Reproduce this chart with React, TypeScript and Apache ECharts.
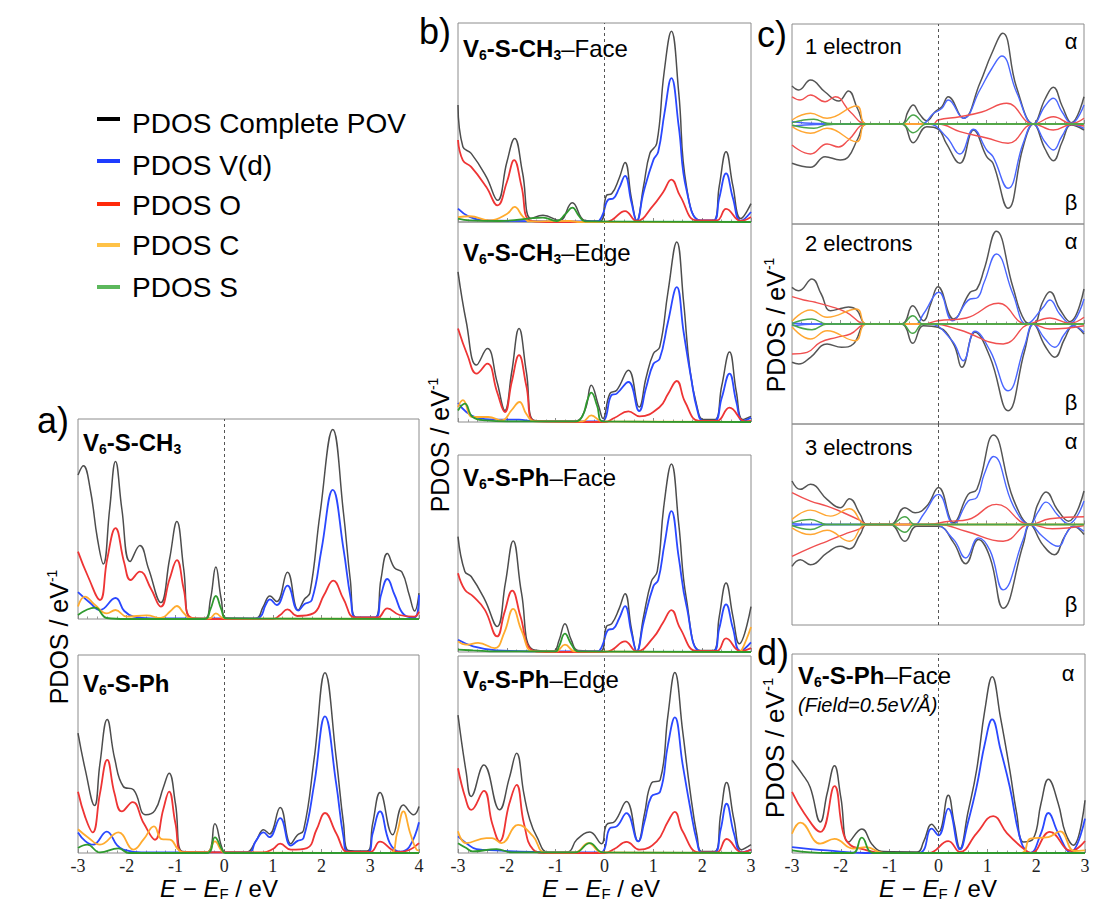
import React, { useEffect, useRef } from "react";
import * as echarts from "echarts";

type Pt = [number, number];

// ---------- Panel a) V6-S-CH3 (values in % of frame height) ----------
const aCH3Total: Pt[] = [[-3,72],[-2.89,76.6],[-2.75,65],[-2.6,40],[-2.48,27.5],[-2.35,55],[-2.23,78.8],[-2.1,55],[-1.93,28.7],[-1.73,36.7],[-1.55,25],[-1.3,8.2],[-1.12,30],[-0.97,48.7],[-0.83,25],[-0.69,0.5],[-0.4,0.3],[-0.28,10],[-0.17,26],[-0.06,10],[0.05,0.5],[0.65,0.3],[0.8,6],[0.94,11.5],[1.08,8.7],[1.3,23.4],[1.52,4.5],[1.65,10],[1.76,13],[1.97,53],[2.23,94.7],[2.45,53],[2.59,19.5],[2.71,0.8],[3.1,0.8],[3.22,20],[3.35,32.7],[3.5,25.5],[3.65,23.4],[3.8,12],[3.91,4],[4,12.9]];
const aCH3Vd: Pt[] = [[-3,13.4],[-2.75,8],[-2.55,4.5],[-2.23,10.5],[-2.05,4],[-1.86,1.2],[-1.5,0.3],[0.6,0.3],[0.74,1],[0.85,7],[0.94,9.8],[1.08,7],[1.3,16.7],[1.52,4.2],[1.65,7.5],[1.8,9.5],[2.0,35],[2.23,64.6],[2.45,35],[2.6,10],[2.71,0.8],[3.1,0.8],[3.22,12],[3.35,20],[3.5,12],[3.7,2],[3.91,0.8],[4,12]];
const aCH3O: Pt[] = [[-3,33.7],[-2.79,21],[-2.55,9.5],[-2.4,30],[-2.23,45.4],[-2.05,28],[-1.92,19.5],[-1.73,23.7],[-1.5,15],[-1.3,6.2],[-1.12,20],[-0.97,29.4],[-0.83,15],[-0.69,0.8],[-0.4,0],[1.0,0],[1.15,2],[1.3,4.8],[1.5,1.5],[1.83,2.8],[2.05,12],[2.24,19.2],[2.45,10],[2.69,0.8],[3.15,0.8],[3.35,5.3],[3.6,2],[3.9,1.2],[4,3.7]];
const aCH3C: Pt[] = [[-3,6.2],[-2.86,11.2],[-2.65,7],[-2.41,2.8],[-2.23,4.5],[-2.0,1.2],[-1.59,1.8],[-1.3,0.5],[-1.1,4],[-0.97,6.5],[-0.83,3],[-0.69,0.3],[-0.3,0.3],[-0.17,2.8],[0,0.3],[4,0]];
const aCH3S: Pt[] = [[-3,2],[-2.65,5.7],[-2.41,0.5],[-2,0],[-0.4,0],[-0.28,5],[-0.17,11.5],[-0.06,5],[0.05,0.3],[4,0]];

// ---------- Panel a) V6-S-Ph ----------
const aPhTotal: Pt[] = [[-3,60.5],[-2.85,42],[-2.66,24],[-2.55,45],[-2.4,67.4],[-2.25,48],[-2.07,33.6],[-1.86,31.9],[-1.61,19.3],[-1.42,21.5],[-1.25,33],[-1.13,40.3],[-1.0,25],[-0.85,0.7],[-0.35,0.5],[-0.19,14.8],[-0.05,3],[0.02,0.5],[0.46,0.5],[0.65,6],[0.81,11.8],[0.93,9.6],[1.15,23],[1.37,4.7],[1.5,9],[1.63,11.4],[1.85,48],[2.07,91],[2.3,48],[2.45,15],[2.55,1.3],[2.93,1],[3.05,15],[3.2,30.6],[3.46,9.2],[3.68,24.2],[3.89,19.3],[4,23.5]];
const aPhVd: Pt[] = [[-3,10.4],[-2.85,6],[-2.69,4.2],[-2.41,10.8],[-2.2,4],[-2.07,1.7],[-1.7,0.3],[0.5,0.3],[0.65,6],[0.81,10.4],[0.93,8],[1.15,17.6],[1.37,3.7],[1.5,6],[1.63,7.6],[1.85,35],[2.07,69],[2.3,35],[2.45,8],[2.55,0.5],[2.95,0.5],[3.05,10],[3.2,21],[3.4,5],[3.61,0.7],[3.8,3],[4,15.5]];
const aPhO: Pt[] = [[-3,30.9],[-2.85,18],[-2.7,10.4],[-2.55,30],[-2.4,47],[-2.25,30],[-2.1,21],[-1.88,25.7],[-1.65,15],[-1.42,6.7],[-1.25,22],[-1.13,31],[-1.0,15],[-0.85,0.5],[0.8,0.3],[1.0,2],[1.15,4.7],[1.37,1.7],[1.7,2.5],[1.9,12],[2.07,20.2],[2.3,10],[2.55,0.5],[3.0,0.5],[3.2,5.7],[3.45,1.5],[3.6,0.5],[3.8,1.5],[4,5]];
const aPhC: Pt[] = [[-3,12],[-2.8,8],[-2.55,4.2],[-2.17,10.4],[-1.86,1.7],[-1.65,7],[-1.44,13.4],[-1.28,7],[-1.11,6.7],[-0.95,2],[-0.85,0.3],[-0.35,0.3],[-0.19,5.9],[-0.05,1],[0.02,0.2],[3.4,0],[3.55,10],[3.68,21],[3.82,10],[3.95,1.7],[4,1.3]];
const aPhS: Pt[] = [[-3,2.5],[-2.81,4.2],[-2.55,0.3],[-2.17,2.3],[-1.95,0],[-0.35,0],[-0.19,7.9],[-0.05,2],[0.02,0],[4,0]];

// ---------- Panel b) V6-S-CH3 Face ----------
const bCH3FaceTotal: Pt[] = [[-3,58.8],[-2.9,37.8],[-2.73,34.5],[-2.42,22.7],[-2.19,10.9],[-2.0,30],[-1.84,42],[-1.68,25],[-1.5,1.7],[-1.26,3.4],[-0.92,0.8],[-0.66,9.7],[-0.4,0.8],[-0.09,0.5],[0.04,13.4],[0.15,14.3],[0.3,22],[0.42,29.9],[0.55,12],[0.66,0.8],[0.8,18],[0.93,34.5],[1.07,39.5],[1.22,75],[1.37,95.8],[1.52,65],[1.68,17.6],[1.96,0.8],[2.23,0.8],[2.35,18],[2.49,35.3],[2.63,18],[2.79,1.7],[3,9.2]];
const bCH3FaceVd: Pt[] = [[-3,6.7],[-2.76,2.5],[-2.42,0.8],[-1,0.3],[-0.15,0.3],[-0.05,3],[0.08,11.3],[0.18,11.8],[0.3,17],[0.42,23.2],[0.55,10],[0.66,0.5],[0.8,15],[1.0,31.1],[1.1,35.3],[1.23,55],[1.37,72.3],[1.52,48],[1.68,16],[1.96,0.8],[2.23,0.8],[2.35,12],[2.49,24.4],[2.63,12],[2.79,0.5],[3,5]];
const bCH3FaceO: Pt[] = [[-3,41.2],[-2.9,31],[-2.73,27.7],[-2.42,17.6],[-2.19,8.4],[-2.0,20],[-1.85,31.1],[-1.7,18],[-1.53,0.8],[-1.2,0],[0,0],[0.15,1],[0.42,5.5],[0.66,0.5],[1.0,8.4],[1.2,15],[1.37,21.3],[1.55,13],[1.89,0.8],[2.3,0.8],[2.49,6.6],[2.79,0.5],[3,2.5]];
const bCH3FaceC: Pt[] = [[-3,2.5],[-2.76,2.9],[-2.35,0.8],[-2.0,4],[-1.84,7.6],[-1.68,3],[-1.53,0.3],[-0.7,0.5],[-0.5,0],[3,0]];
const bCH3FaceS: Pt[] = [[-3,1.7],[-2.76,0.8],[-2.15,0.5],[-1.26,2.2],[-0.98,0.5],[-0.8,4],[-0.66,7.2],[-0.52,3],[-0.4,0.3],[3,0]];

// ---------- Panel b) V6-S-CH3 Edge ----------
const bCH3EdgeTotal: Pt[] = [[-3,75.1],[-2.83,50],[-2.62,28.5],[-2.4,36.7],[-2.2,20],[-2.04,5.8],[-1.9,25],[-1.75,46.7],[-1.6,25],[-1.43,0.8],[-0.6,0.5],[-0.4,6],[-0.27,18.4],[-0.12,8],[-0.03,1.7],[0.11,14.2],[0.25,15.9],[0.49,25.9],[0.71,7.5],[0.85,22],[1.0,34.1],[1.13,37.4],[1.3,65],[1.48,90],[1.62,60],[1.75,25.9],[1.9,7],[2.02,1.2],[2.25,1.2],[2.4,18],[2.56,35],[2.7,15],[2.83,1.2],[3,2.8]];
const bCH3EdgeVd: Pt[] = [[-3,9.5],[-2.83,5],[-2.62,2.2],[-2.25,1.2],[-1.75,1.2],[-1.47,0.5],[-0.1,0.3],[0.0,1],[0.14,13.4],[0.25,14.2],[0.49,20],[0.71,5.5],[0.85,17],[1.0,29],[1.13,31.6],[1.3,50],[1.48,67.4],[1.62,45],[1.77,22.5],[1.9,6],[2.02,0.5],[2.25,0.5],[2.4,12],[2.56,24.2],[2.7,10],[2.83,0.5],[3,2.2]];
const bCH3EdgeO: Pt[] = [[-3,46.7],[-2.8,33],[-2.62,24.2],[-2.4,29.2],[-2.2,15],[-2.04,5],[-1.9,20],[-1.75,33.4],[-1.6,18],[-1.43,0.5],[0,0],[0.2,2],[0.49,5.3],[0.72,2.8],[1.13,7.5],[1.3,14],[1.48,20.5],[1.65,10],[1.94,0.5],[2.3,0.5],[2.56,7.2],[2.88,0.3],[3,0.5]];
const bCH3EdgeC: Pt[] = [[-3,7.5],[-2.9,10.9],[-2.7,2.5],[-2.38,2.5],[-2.1,0.8],[-1.9,6],[-1.74,10],[-1.6,4],[-1.43,0.3],[-0.45,0.3],[-0.27,3.3],[-0.05,0.3],[3,0]];
const bCH3EdgeS: Pt[] = [[-3,5.8],[-2.86,9.2],[-2.7,2.5],[-2.42,0.8],[-2,0.3],[-0.6,0.3],[-0.45,3],[-0.35,11],[-0.27,14.7],[-0.15,8],[-0.03,0.3],[3,0]];

// ---------- Panel b) V6-S-Ph Face ----------
const bPhFaceTotal: Pt[] = [[-3,58.6],[-2.86,40.9],[-2.73,38.3],[-2.45,26.5],[-2.2,13],[-2.03,35],[-1.87,56.4],[-1.7,30],[-1.46,1.2],[-1.05,0.5],[-0.93,6],[-0.81,14.4],[-0.68,6],[-0.54,0.8],[-0.08,0.5],[0.04,13],[0.15,14.4],[0.3,22],[0.42,29.6],[0.55,12],[0.66,0.3],[0.8,18],[0.96,35.8],[1.08,40.9],[1.22,75],[1.37,95.4],[1.52,65],[1.68,26.5],[1.96,0.8],[2.23,0.8],[2.35,18],[2.49,35],[2.63,18],[2.76,4.2],[3,23]];
const bPhFaceVd: Pt[] = [[-3,6.2],[-2.69,2.9],[-2.21,0.8],[-1,0.3],[-0.15,0.3],[-0.05,3],[0.08,11.3],[0.18,11.8],[0.3,17],[0.42,23.3],[0.55,10],[0.66,0.3],[0.8,15],[1.0,33.3],[1.1,36.6],[1.23,55],[1.37,71.5],[1.52,48],[1.68,23.3],[1.96,0.5],[2.23,0.5],[2.35,12],[2.49,24.2],[2.63,12],[2.78,0.5],[3,4.9]];
const bPhFaceO: Pt[] = [[-3,40],[-2.86,31.6],[-2.69,28.2],[-2.45,21.4],[-2.2,7.9],[-2.05,20],[-1.89,31.2],[-1.72,18],[-1.5,1.2],[-1.2,0],[0,0],[0.15,1],[0.42,5.4],[0.66,0.3],[1.0,7.3],[1.2,15],[1.37,21.3],[1.55,12],[1.89,0.5],[2.3,0.5],[2.49,6.9],[2.78,0.5],[3,2]];
const bPhFaceC: Pt[] = [[-3,5.4],[-2.83,3.7],[-2.59,4.6],[-2.25,2],[-2.05,10],[-1.87,21.9],[-1.7,11],[-1.46,0.3],[-1.0,0.3],[-0.81,3.7],[-0.6,0.3],[2.75,0],[2.8,0.5],[3,12.7]];
const bPhFaceS: Pt[] = [[-3,1.2],[-2.69,0.8],[-2.2,0.3],[-1,0.3],[-0.93,3],[-0.81,9.3],[-0.68,4],[-0.54,0.3],[3,0]];

// ---------- Panel b) V6-S-Ph Edge ----------
const bPhEdgeTotal: Pt[] = [[-3,70],[-2.83,40.5],[-2.73,28.7],[-2.47,44.7],[-2.15,21.9],[-1.95,38],[-1.8,50.6],[-1.65,30],[-1.53,16.9],[-1.39,8.4],[-1.15,0.3],[-0.75,0.5],[-0.57,6.7],[-0.3,10.6],[-0.06,4.7],[0.04,14.3],[0.21,16],[0.45,26.1],[0.69,5.9],[0.82,20],[0.96,35.4],[1.14,37.1],[1.3,70],[1.44,91.6],[1.6,62],[1.75,32],[1.9,8],[1.99,0.8],[2.25,0.8],[2.38,20],[2.5,35.8],[2.65,17],[2.81,1.7],[3,4.2]];
const bPhEdgeVd: Pt[] = [[-3,8.4],[-2.83,5],[-2.62,2],[-2.21,1.3],[-1.5,0.5],[-0.08,0.3],[0.0,2],[0.11,12.6],[0.25,13.5],[0.45,20.2],[0.69,5.9],[0.82,16],[0.96,28.7],[1.14,31.2],[1.3,55],[1.44,68.8],[1.6,45],[1.75,23.6],[1.9,5],[1.99,0.3],[2.25,0.3],[2.38,12],[2.5,25],[2.65,10],[2.81,0.3],[3,1.7]];
const bPhEdgeO: Pt[] = [[-3,43],[-2.85,28],[-2.73,21.9],[-2.47,31.5],[-2.3,15],[-2.15,5.9],[-1.95,25],[-1.8,34.6],[-1.65,15],[-1.46,1.7],[-1.2,0],[0,0],[0.2,2],[0.45,5.6],[0.72,1.7],[1.07,5.9],[1.3,16],[1.44,20.9],[1.6,11],[1.94,0.3],[2.3,0.3],[2.5,7.1],[2.81,0.3],[3,1.7]];
const bPhEdgeC: Pt[] = [[-3,11],[-2.83,5],[-2.42,7.6],[-2.3,7.6],[-2.11,5],[-1.77,14.3],[-1.46,8.4],[-1.22,0.3],[-0.6,0.3],[-0.33,5],[-0.05,0.3],[3,0]];
const bPhEdgeS: Pt[] = [[-3,5],[-2.83,2.5],[-2.7,0.8],[-2.21,2],[-1.9,0.3],[-0.6,0.3],[-0.3,5],[-0.03,0.3],[3,0]];

// ---------- Panel c) 1 electron (alpha > 0, beta < 0; % of half height) ----------
const c1TotalA: Pt[] = [[-3,38],[-2.86,34],[-2.62,44],[-2.32,32],[-2.04,23],[-1.84,33],[-1.65,15],[-1.46,0],[-0.75,0],[-0.62,12],[-0.51,19],[-0.38,10],[-0.23,3.3],[-0.06,12.3],[0.08,17.3],[0.21,27.3],[0.52,5.7],[0.86,40.7],[1.1,70],[1.33,90.7],[1.61,37.3],[1.96,0],[2.2,25],[2.37,36.7],[2.55,18],[2.74,1.3],[3,27.3]];
const c1VdA: Pt[] = [[-3,2.3],[-2.5,0.5],[-1.46,0],[-0.35,0],[-0.09,10.7],[0.08,15.7],[0.21,24],[0.52,5.7],[0.86,34],[1.1,55],[1.31,68],[1.61,32.3],[1.96,0],[2.2,18],[2.37,25.7],[2.55,12],[2.74,0.7],[3,19]];
const c1OA: Pt[] = [[-3,27.3],[-2.83,24],[-2.62,29],[-2.32,22.3],[-2.11,27.3],[-1.8,12],[-1.46,0],[-0.1,0],[0,4],[0.45,7.3],[0.9,12],[1.41,20.7],[1.96,0],[2.37,7.3],[2.74,0.5],[3,5.7]];
const c1CA: Pt[] = [[-3,4],[-2.62,10.7],[-2.28,5.7],[-1.67,18],[-1.46,0],[3,0]];
const c1SA: Pt[] = [[-3,1.3],[-2.55,4.7],[-2.28,0.7],[-2,0],[-0.75,0],[-0.51,9],[-0.23,0],[3,0]];
const c1TotalB: Pt[] = [[-3,-39.3],[-2.62,-43.3],[-2.32,-32.7],[-2.01,-36],[-1.84,-32.7],[-1.65,-15],[-1.46,0],[-0.75,0],[-0.51,-18.7],[-0.23,-2.7],[0,-5],[0.17,-19.3],[0.45,-39.3],[0.73,-6],[1.0,-32.7],[1.13,-39.3],[1.44,-84.3],[1.75,-22.7],[1.96,0],[2.2,-25],[2.37,-36.7],[2.55,-18],[2.74,-1],[3,-6]];
const c1VdB: Pt[] = [[-3,-2],[-2.5,-0.5],[-1.46,0],[-0.2,0],[0.17,-12.7],[0.45,-30],[0.73,-5.3],[1.0,-26],[1.13,-32.7],[1.44,-64.3],[1.75,-19.3],[1.96,0],[2.2,-18],[2.37,-26],[2.55,-12],[2.74,-0.3],[3,-4.3]];
const c1OB: Pt[] = [[-3,-21],[-2.62,-30],[-2.28,-20],[-2.04,-23],[-1.84,-16],[-1.46,0],[0,0],[0.45,-7.7],[1.0,-14],[1.44,-19.3],[1.96,0],[2.37,-6],[2.74,-0.5],[3,-2]];
const c1CB: Pt[] = [[-3,-2.7],[-2.62,-9.3],[-2.28,-4.3],[-1.67,-17.7],[-1.46,0],[3,0]];
const c1SB: Pt[] = [[-3,-1],[-2.55,-4.3],[-2.28,-0.7],[-2,0],[-0.75,0],[-0.51,-8.7],[-0.23,0],[3,0]];

// ---------- Panel c) 2 electrons ----------
const c2TotalA: Pt[] = [[-3,36.7],[-2.86,33.3],[-2.59,45],[-2.4,30],[-2.21,13.3],[-1.95,16],[-1.84,17],[-1.67,14],[-1.46,0],[-0.75,0],[-0.52,18.3],[-0.3,3.3],[-0.15,20],[0,37.3],[0.32,5],[0.66,31.7],[0.8,35],[0.95,55],[1.2,92.7],[1.54,36.7],[1.78,3.3],[1.96,0],[2.15,22],[2.3,32.3],[2.5,15],[2.71,2.3],[3,35]];
const c2VdA: Pt[] = [[-3,0.7],[-2.5,0],[-0.47,0],[-0.3,10],[0.02,31.7],[0.3,3.3],[0.66,25],[0.8,26],[0.95,42],[1.2,70],[1.54,30],[1.82,0],[2.15,16],[2.3,24],[2.5,10],[2.71,0.7],[3,25]];
const c2OA: Pt[] = [[-3,27.3],[-2.76,24],[-2.52,21.7],[-2.15,16.7],[-1.88,11.7],[-1.46,0],[-0.3,0],[0,3.3],[0.58,6],[1.24,20.7],[1.82,0],[2.3,6],[2.71,0.7],[3,6.7]];
const c2CA: Pt[] = [[-3,2.7],[-2.62,14],[-2.28,6.7],[-1.67,15],[-1.46,0],[3,0]];
const c2SA: Pt[] = [[-3,0.7],[-2.59,5],[-2.28,0],[-0.75,0],[-0.52,8.3],[-0.3,0],[3,0]];
const c2TotalB: Pt[] = [[-3,-38.3],[-2.86,-40],[-2.62,-33.3],[-2.28,-20],[-1.98,-23.3],[-1.74,-20],[-1.46,0],[-0.75,0],[-0.52,-19.3],[-0.3,-1.7],[0,-3.3],[0.32,-20],[0.49,-43.3],[0.76,-8.3],[1.07,-33.3],[1.44,-86.7],[1.78,-26.7],[1.96,0],[2.2,-22],[2.4,-33.3],[2.6,-15],[2.78,-1.7],[3,-10]];
const c2VdB: Pt[] = [[-3,-1.7],[-2.5,0],[-0.2,0],[0.29,-16.7],[0.52,-36.7],[0.76,-7.3],[1.07,-26.7],[1.44,-66.7],[1.78,-21.7],[1.96,0],[2.2,-15],[2.4,-23.3],[2.6,-10],[2.78,-1.7],[3,-8.3]];
const c2OB: Pt[] = [[-3,-30],[-2.69,-28.3],[-2.42,-18.3],[-2.08,-13.3],[-1.8,-10],[-1.46,0],[-0.1,0],[0.45,-6],[1.34,-20],[1.92,0],[2.3,-5],[3,-1.7]];
const c2CB: Pt[] = [[-3,-2.7],[-2.62,-15],[-2.28,-6.7],[-1.7,-16.7],[-1.46,0],[3,0]];
const c2SB: Pt[] = [[-3,-0.5],[-2.59,-5.7],[-2.28,0],[-0.75,0],[-0.52,-9.3],[-0.3,0],[3,0]];

// ---------- Panel c) 3 electrons ----------
const c3TotalA: Pt[] = [[-3,43.3],[-2.83,35],[-2.62,40],[-2.28,25],[-2.01,16.7],[-1.82,25.7],[-1.6,10],[-1.46,0],[-0.98,0],[-0.68,16.7],[-0.47,11.7],[-0.23,18.3],[0.01,36.7],[0.32,1.7],[0.62,30],[0.8,35],[1.14,89],[1.55,25],[1.89,0],[2.05,20],[2.22,32.3],[2.45,15],[2.68,3.3],[3,33.3]];
const c3VdA: Pt[] = [[-3,0.7],[-2.5,0],[-0.5,0],[-0.3,10],[0.01,30],[0.32,0.5],[0.62,23.3],[0.8,27],[0.95,50],[1.14,67.7],[1.55,18.3],[1.89,0],[2.05,12],[2.22,22.3],[2.45,10],[2.68,0.7],[3,23.3]];
const c3OA: Pt[] = [[-3,31.7],[-2.62,23.3],[-2.28,18.3],[-1.94,11.7],[-1.6,4],[-1.46,0],[-0.2,0],[0.2,3],[0.62,5],[1.2,20],[1.89,0],[2.3,5.7],[3,7.7]];
const c3CA: Pt[] = [[-3,5],[-2.62,14.3],[-2.21,8.3],[-1.82,15.7],[-1.46,0],[3,0]];
const c3SA: Pt[] = [[-3,1.7],[-2.62,5],[-2.28,0],[-0.98,0],[-0.68,7.7],[-0.47,0],[3,0]];
const c3TotalB: Pt[] = [[-3,-41.7],[-2.83,-35],[-2.62,-40],[-2.28,-28.3],[-2.01,-21.7],[-1.82,-24.3],[-1.6,-10],[-1.46,0],[-0.98,0],[-0.68,-16.7],[-0.44,-1.7],[0,-1.7],[0.32,-18],[0.57,-39],[0.83,-15],[1.07,-33],[1.34,-83.3],[1.75,-20],[1.89,0],[2.15,-20],[2.39,-30],[2.6,-12],[2.78,-1.7],[3,-10]];
const c3VdB: Pt[] = [[-3,-1],[-2.5,0],[-0.1,0],[0.32,-15],[0.57,-33.3],[0.83,-13.3],[1.07,-26],[1.34,-65],[1.75,-15],[1.89,0],[2.15,-12],[2.47,-21.7],[2.65,-8],[2.78,-1.7],[3,-6.7]];
const c3OB: Pt[] = [[-3,-31.7],[-2.62,-23.3],[-2.28,-16.7],[-1.94,-10],[-1.6,-4],[-1.46,0],[0,0],[0.57,-6.7],[1.34,-16.7],[1.89,0],[2.35,-4.3],[3,-1]];
const c3CB: Pt[] = [[-3,-3.3],[-2.62,-10],[-2.28,-5.7],[-1.82,-16.7],[-1.46,0],[3,0]];
const c3SB: Pt[] = [[-3,-1],[-2.62,-5],[-2.28,0],[-0.98,0],[-0.68,-7.7],[-0.47,0],[3,0]];

// ---------- Panel d) V6-S-Ph Face, field 0.5 eV/Å ----------
const dTotal: Pt[] = [[-3,46.6],[-2.8,40],[-2.63,33.2],[-2.42,15.6],[-2.28,30],[-2.13,43.8],[-2.0,28],[-1.84,5.5],[-1.57,12.1],[-1.35,4],[-1.13,0.7],[-0.44,0.5],[-0.3,6],[-0.14,14.4],[0,10.6],[0.2,29],[0.32,15],[0.44,2.2],[0.6,20],[0.78,41.6],[0.95,72],[1.1,88.6],[1.27,68],[1.46,41.6],[1.6,20],[1.74,5.5],[1.94,7.2],[2.1,25],[2.25,37],[2.45,25],[2.6,10],[2.76,3.9],[3,26.5]];
const dVd: Pt[] = [[-3,3],[-2.28,1.3],[-1.5,0],[-0.4,0],[-0.14,12.2],[0,8.9],[0.2,22.3],[0.44,1.8],[0.6,15],[0.78,33.2],[0.95,55],[1.1,67.1],[1.27,52],[1.46,33.2],[1.7,5],[1.88,0],[2.1,10],[2.25,20.1],[2.45,10],[2.7,0.3],[3,17.3]];
const dO: Pt[] = [[-3,30.7],[-2.75,20],[-2.42,10.6],[-2.13,33.6],[-1.95,10],[-1.8,3.9],[-1.6,2.2],[-1.13,0],[-0.2,0],[0.2,6],[0.44,0.5],[0.78,9.9],[1.12,18.5],[1.4,10],[1.74,2.2],[1.9,0],[2.28,10.6],[2.72,1],[3,6]];
const dC: Pt[] = [[-3,9.7],[-2.83,15.3],[-2.42,4.7],[-2.13,7.1],[-1.75,2.2],[-1.48,3],[-1.13,0],[1.7,0],[1.88,7.2],[2.25,8],[2.49,10.9],[2.78,1],[3,1.3]];
const dS: Pt[] = [[-3,1.3],[-2.28,0],[-1.75,0],[-1.57,7.7],[-1.33,0],[3,0]];

// ---------- Texts ----------
const LEGEND_LABELS = ["PDOS Complete POV", "PDOS V(d)", "PDOS O", "PDOS C", "PDOS S"];
const LEGEND_COLORS = ["#000000", "#1e3cff", "#ff2a0a", "#ffc247", "#5cb85c"];
const C_LABELS = ["1 electron", "2 electrons", "3 electrons"];

const SANS = "Liberation Sans, Arial, Helvetica, sans-serif";
const SERIF = "Liberation Serif";

const DARK = ["#4d4d4d", "#2a48ff", "#ee3434", "#ffab2e", "#2f9a2f"];
const LIGHT = ["#555555", "#4a66ff", "#f05050", "#ffa733", "#4aa64a"];

type Panel = {
  left: number; top: number; width: number; height: number;
  xMax: number; yMin: number; yMax: number; labels: boolean; light: boolean;
  lines: Pt[][];
};

const PANELS: Panel[] = [
  { left: 78, top: 419, width: 341, height: 200, xMax: 4, yMin: 0, yMax: 100, labels: false, light: false, lines: [aCH3Total, aCH3Vd, aCH3O, aCH3C, aCH3S] },
  { left: 78, top: 655, width: 341, height: 198, xMax: 4, yMin: 0, yMax: 100, labels: true, light: false, lines: [aPhTotal, aPhVd, aPhO, aPhC, aPhS] },
  { left: 458, top: 23, width: 293, height: 199, xMax: 3, yMin: 0, yMax: 100, labels: false, light: false, lines: [bCH3FaceTotal, bCH3FaceVd, bCH3FaceO, bCH3FaceC, bCH3FaceS] },
  { left: 458, top: 222, width: 293, height: 200, xMax: 3, yMin: 0, yMax: 100, labels: false, light: false, lines: [bCH3EdgeTotal, bCH3EdgeVd, bCH3EdgeO, bCH3EdgeC, bCH3EdgeS] },
  { left: 458, top: 455, width: 293, height: 197, xMax: 3, yMin: 0, yMax: 100, labels: false, light: false, lines: [bPhFaceTotal, bPhFaceVd, bPhFaceO, bPhFaceC, bPhFaceS] },
  { left: 458, top: 656, width: 293, height: 197, xMax: 3, yMin: 0, yMax: 100, labels: true, light: false, lines: [bPhEdgeTotal, bPhEdgeVd, bPhEdgeO, bPhEdgeC, bPhEdgeS] },
  { left: 792, top: 24, width: 292, height: 200, xMax: 3, yMin: -100, yMax: 100, labels: false, light: true, lines: [c1TotalA, c1VdA, c1OA, c1CA, c1SA, c1TotalB, c1VdB, c1OB, c1CB, c1SB] },
  { left: 792, top: 224, width: 292, height: 200, xMax: 3, yMin: -100, yMax: 100, labels: false, light: true, lines: [c2TotalA, c2VdA, c2OA, c2CA, c2SA, c2TotalB, c2VdB, c2OB, c2CB, c2SB] },
  { left: 792, top: 424, width: 292, height: 201, xMax: 3, yMin: -100, yMax: 100, labels: false, light: true, lines: [c3TotalA, c3VdA, c3OA, c3CA, c3SA, c3TotalB, c3VdB, c3OB, c3CB, c3SB] },
  { left: 792, top: 654, width: 293, height: 199, xMax: 3, yMin: 0, yMax: 100, labels: true, light: false, lines: [dTotal, dVd, dO, dC, dS] },
];

function titleRich(fs: number, lh: number) {
  return {
    b: { fontFamily: SANS, fontSize: fs, fontWeight: "bold", lineHeight: lh, verticalAlign: "middle", fill: "#000" },
    s: { fontFamily: SANS, fontSize: Math.round(fs * 0.58), fontWeight: "bold", lineHeight: Math.round(fs * 0.58), verticalAlign: "bottom", fill: "#000" },
    n: { fontFamily: SANS, fontSize: fs, fontWeight: "normal", lineHeight: lh, verticalAlign: "middle", fill: "#000" },
    i: { fontFamily: SANS, fontSize: fs, fontStyle: "italic", lineHeight: lh, verticalAlign: "middle", fill: "#000" },
    f: { fontFamily: SANS, fontSize: Math.round(fs * 0.62), fontWeight: "normal", lineHeight: Math.round(fs * 0.62), verticalAlign: "bottom", fill: "#000" },
    u: { fontFamily: SANS, fontSize: Math.round(fs * 0.58), fontWeight: "normal", lineHeight: Math.round(fs * 0.58), verticalAlign: "top", fill: "#000" },
  };
}

function txt(x: number, y: number, text: string, fs: number, opts: any = {}) {
  const lh = opts.lh || fs + 4;
  return {
    type: "text", x, y, rotation: opts.rot || 0, silent: true, z: 100,
    style: {
      text, x: 0, y: 0, fill: "#000",
      fontFamily: SANS, fontSize: fs, fontWeight: opts.fw || "normal", fontStyle: opts.fst || "normal",
      lineHeight: lh,
      align: opts.align || "left", verticalAlign: "middle",
      rich: titleRich(fs, lh),
    },
  };
}

export default function App() {
  const ref = useRef<HTMLDivElement>(null);
  useEffect(() => {
    document.body.style.margin = "0";
    document.body.style.overflow = "hidden";
    const chart = echarts.init(ref.current as HTMLDivElement, null, { renderer: "svg" });
    const grids: any[] = [];
    const xAxes: any[] = [];
    const yAxes: any[] = [];
    const series: any[] = [];
    PANELS.forEach((p, i) => {
      grids.push({ left: p.left, top: p.top, width: p.width, height: p.height, show: true, borderColor: "#8c8c8c", borderWidth: 1, backgroundColor: "transparent", containLabel: false, outerBoundsMode: "none" });
      xAxes.push({
        gridIndex: i, type: "value", min: -3, max: p.xMax, interval: 1,
        axisLine: { show: false },
        axisTick: { show: true, inside: true, length: 4, lineStyle: { color: "#8c8c8c", width: 1 } },
        minorTick: { show: true, splitNumber: 5, length: 2.5, lineStyle: { color: "#9a9a9a", width: 1 } },
        splitLine: { show: false },
        minorSplitLine: { show: false },
        axisLabel: { show: p.labels, fontFamily: SERIF, fontSize: 18, lineHeight: 16, color: "#222", margin: 5, showMinLabel: true, showMaxLabel: true, hideOverlap: false },
      });
      yAxes.push({ gridIndex: i, type: "value", min: p.yMin, max: p.yMax, show: false, splitLine: { show: false } });
      const pal = p.light ? LIGHT : DARK;
      p.lines.forEach((d, k) => {
        const ci = k % 5;
        series.push({
          type: "line", xAxisIndex: i, yAxisIndex: i, data: d,
          symbol: "none", showSymbol: false, smooth: 0.45, clip: true, silent: true,
          lineStyle: { color: pal[ci], width: ci === 0 ? 1.5 : (p.light ? 1.4 : 1.8) },
          z: 2 + ci,
          markLine: k === 0 ? {
            silent: true, symbol: ["none", "none"], label: { show: false },
            lineStyle: { type: [3, 3], color: "#555", width: 1 },
            data: [{ xAxis: 0 }],
          } : undefined,
        });
      });
    });

    const g: any[] = [];
    // legend
    LEGEND_LABELS.forEach((name, k) => {
      const yc = [119, 161, 204, 245, 287][k];
      g.push({ type: "rect", silent: true, shape: { x: 97, y: yc - 2, width: 23, height: 4 }, style: { fill: LEGEND_COLORS[k] } });
      g.push(txt(132, [123, 165, 205, 245, 287][k], name, 28));
    });
    // panel letters
    g.push(txt(37, 420, "a)", 36));
    g.push(txt(419, 31, "b)", 36));
    g.push(txt(757, 34, "c)", 36));
    g.push(txt(757, 652, "d)", 36));
    // panel titles
    g.push(txt(83, 442, "{b|V}{s|6}{b|-S-CH}{s|3}", 24));
    g.push(txt(83, 683, "{b|V}{s|6}{b|-S-Ph}", 24));
    g.push(txt(463, 48, "{b|V}{s|6}{b|-S-CH}{s|3}{n|\u2013Face}", 24));
    g.push(txt(463, 252, "{b|V}{s|6}{b|-S-CH}{s|3}{n|\u2013Edge}", 24));
    g.push(txt(463, 477, "{b|V}{s|6}{b|-S-Ph}{n|\u2013Face}", 24));
    g.push(txt(463, 679, "{b|V}{s|6}{b|-S-Ph}{n|\u2013Edge}", 24));
    g.push(txt(798, 675, "{b|V}{s|6}{b|-S-Ph}{n|\u2013Face}", 24));
    g.push(txt(798, 705, "(Field=0.5eV/\u00c5)", 20, { fst: "italic" }));
    // c labels and spin labels
    C_LABELS.forEach((s, k) => {
      g.push(txt(805, [46, 243, 447][k], s, 22));
      g.push(txt(1071, [41, 241, 441][k], "\u03b1", 22, { align: "center" }));
      g.push(txt(1071, [202, 402, 604][k], "\u03b2", 22, { align: "center" }));
    });
    g.push(txt(1068, 673, "\u03b1", 22, { align: "center" }));
    // y axis labels
    const yl = "PDOS / eV{u|-1}";
    g.push(txt(59, 637, yl, 25, { rot: Math.PI / 2, align: "center" }));
    g.push(txt(440, 445, yl, 25, { rot: Math.PI / 2, align: "center" }));
    g.push(txt(776, 325, yl, 25, { rot: Math.PI / 2, align: "center" }));
    g.push(txt(775, 748, yl, 26, { rot: Math.PI / 2, align: "center" }));
    // x axis labels
    const xl = "{i|E} \u2212 {i|E}{f|F} / eV";
    g.push(txt(219, 888, xl, 24, { align: "center", lh: 26 }));
    g.push(txt(601, 888, xl, 24, { align: "center", lh: 26 }));
    g.push(txt(938, 888, xl, 24, { align: "center", lh: 26 }));

    chart.setOption({
      animation: false,
      backgroundColor: "#ffffff",
      grid: grids,
      xAxis: xAxes,
      yAxis: yAxes,
      series,
      graphic: { elements: g },
    });
    return () => chart.dispose();
  }, []);
  return <div ref={ref} style={{ position: "absolute", left: 0, top: 0, width: 1097, height: 902 }} />;
}
